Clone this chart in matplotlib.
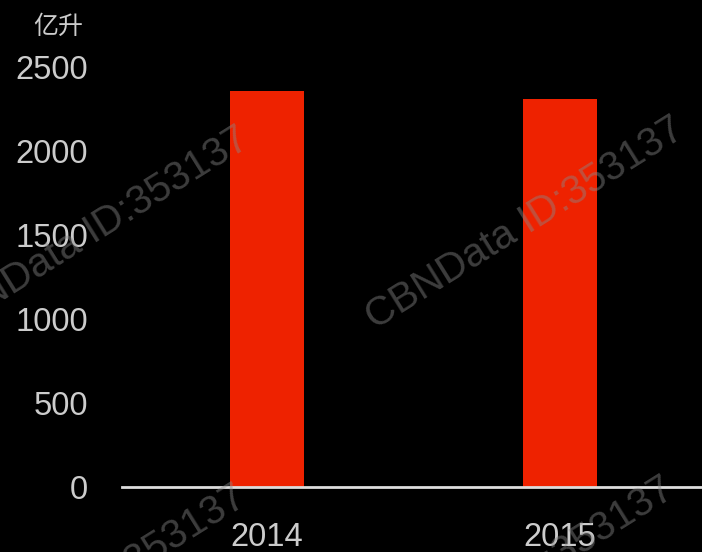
import matplotlib
matplotlib.use("Agg")
import matplotlib.pyplot as plt

plt.rcParams['font.family'] = ['Liberation Sans', 'Noto Sans CJK SC', 'DejaVu Sans']

categories = ["2014", "2015"]
values = [2357, 2310]
yticks = [0, 500, 1000, 1500, 2000, 2500]
unit = "亿升"

fig = plt.figure(figsize=(7.02, 5.52), dpi=100, facecolor='black')
ax = fig.add_axes([122/702, 65/552, 580/702, 420/552], facecolor='black')
x = range(len(categories))
ax.bar(x, values, width=0.2526, color='#EE2200', zorder=2)
ax.set_xlim(-0.4949, 1.4846)
ax.set_ylim(0, 2500)
ax.set_yticks(yticks)
ax.set_yticklabels([str(t) for t in yticks])
ax.set_xticks(list(x))
ax.set_xticklabels(categories)
for s in ['top', 'right', 'left']:
    ax.spines[s].set_visible(False)
ax.spines['bottom'].set_color('#dddddd')
ax.spines['bottom'].set_linewidth(2)
ax.spines['bottom'].set_zorder(3)
ax.tick_params(axis='y', length=0, pad=24.5, labelsize=23.5, labelcolor='#cccccc')
ax.tick_params(axis='x', length=0, pad=25, labelsize=23.5, labelcolor='#cccccc')

fig.text(58/702, 1 - 27/552, unit, color='#cccccc', fontsize=18, ha='center', va='center')

wm = dict(color='#888888', alpha=0.45, fontsize=29, rotation=32, ha='center', va='center', zorder=5)
fig.text(90/702, 1 - 233/552, "CBNData ID:353137", **wm)
fig.text(525/702, 1 - 223/552, "CBNData ID:353137", **wm)
fig.text(87/702, 1 - 591/552, "CBNData ID:353137", **wm)
fig.text(515/702, 1 - 583/552, "CBNData ID:353137", **wm)

fig.savefig("out.png", dpi=100, facecolor='black')
